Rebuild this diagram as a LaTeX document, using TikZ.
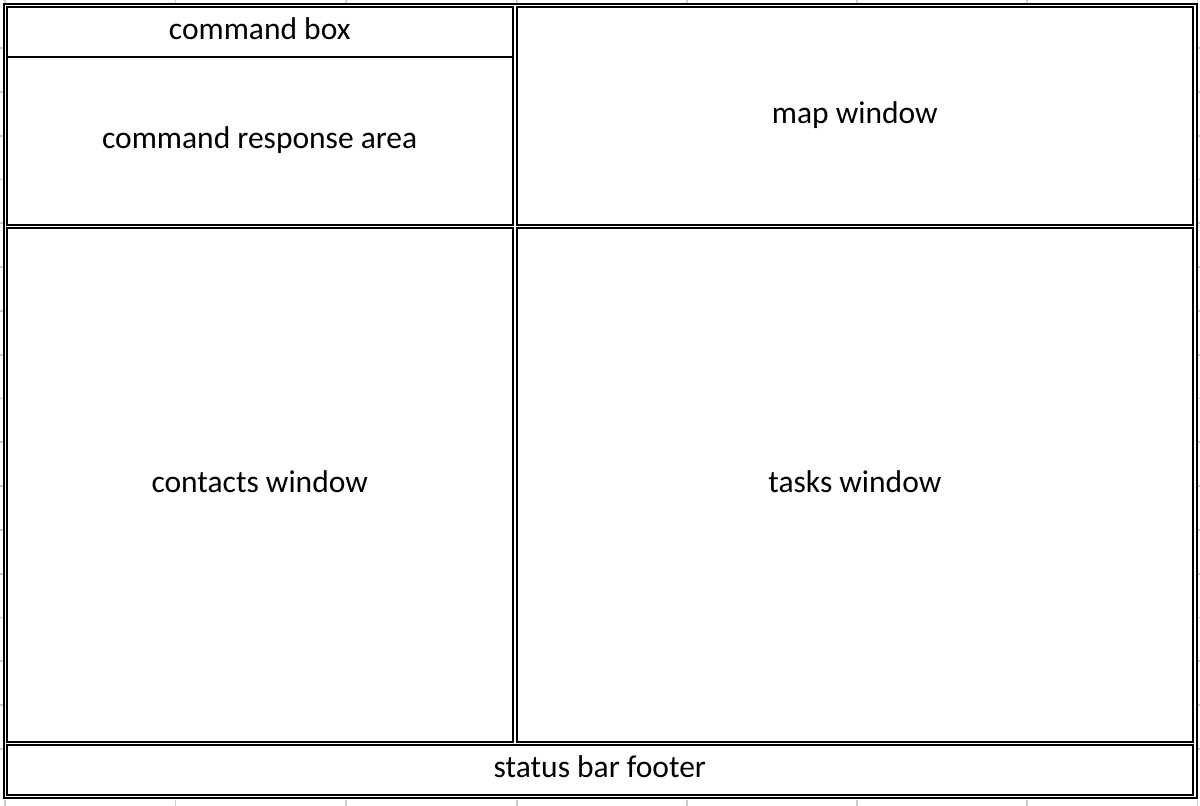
\documentclass[tikz,border=0pt]{standalone}
\usepackage{fontspec}
\setmainfont{Carlito}

\begin{document}
\begin{tikzpicture}[
    x=1pt, y=-1pt,
    pane/.style={rectangle, draw, line width=2pt, inner sep=0pt, align=center,
      text depth=6pt, font=\fontsize{31.5}{36}\selectfont},
    frame/.style={draw, line width=2pt},
    tick/.style={draw=gray!40, line width=1.8pt}
  ]

  % Canvas
  \useasboundingbox (0,0) rectangle (1200,806);

  % Spreadsheet grid ticks peeking out
  \foreach \x in {5,175.5,346,517,687,857,1027,1197.5} {
      \draw[tick] (\x,799.5) -- (\x,806);
      \draw[tick] (\x,0) -- (\x,2.5);
    }
  \foreach \y in {48,91.8,135.6,179.4,223.2,267,310.8,354.6,398.4,442.2,486,529.8,573.6,617.4,661.2,705,748.8} {
      \draw[tick] (0,\y) -- (2.5,\y);
      \draw[tick] (1197.5,\y) -- (1200,\y);
    }

  % Outer frame
  \draw[frame] (3.7,3.7) rectangle (1196.5,797.8);

  % Panes
  \node[pane, minimum width=506pt, minimum height=50.3pt] (cmdbox) at (259.7,31.85) {command box};
  \node[pane, minimum width=506pt, minimum height=167.5pt] (cmdresp) at (259.7,140.75) {command response area};
  \node[pane, minimum width=676.3pt, minimum height=217.8pt] (mapwin) at (854.85,115.6) {map window};
  \node[pane, minimum width=506pt, minimum height=513.2pt] (contacts) at (259.7,484.9) {contacts window};
  \node[pane, minimum width=676.3pt, minimum height=513.2pt] (tasks) at (854.85,484.9) {tasks window};
  \node[pane, minimum width=1186.3pt, minimum height=49.3pt] (footer) at (599.85,769.85) {status bar footer};

\end{tikzpicture}
\end{document}
